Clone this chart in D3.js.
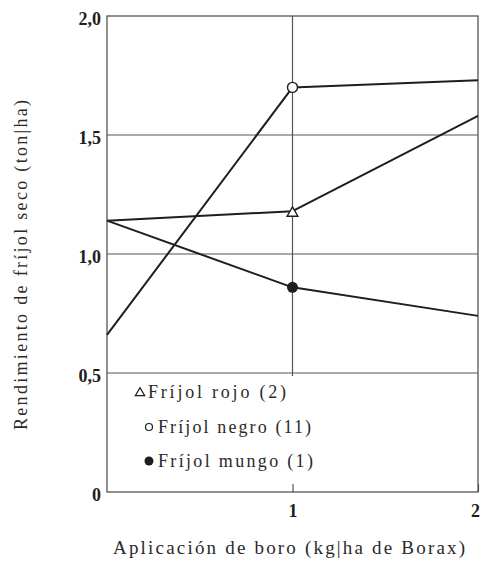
<!DOCTYPE html>
<html>
<head>
<meta charset="utf-8">
<script src="https://cdn.jsdelivr.net/npm/d3@7"></script>
<style>
  html, body { margin: 0; padding: 0; background: #fff; }
  svg { display: block; }
  svg text { font-family: "Liberation Serif", "Times New Roman", Tinos, "DejaVu Serif", "Noto Serif", serif; }
</style>
</head>
<body>
<svg id="chart" width="481" height="565"></svg>
<script>
// Boron application (kg/ha Borax)
const boro = [0, 1, 2];
// Dry bean yield (ton/ha) per variety
const rojo = [1.14, 1.18, 1.58];
const negro = [0.66, 1.70, 1.73];
const mungo = [1.14, 0.86, 0.74];
const yTicks = [0, 0.5, 1.0, 1.5, 2.0];
const yTickLabels = ["0", "0,5", "1,0", "1,5", "2,0"];
const xTicks = [1, 2];
const xTickLabels = ["1", "2"];
const legendLabels = ["Fríjol rojo (2)", "Fríjol negro (11)", "Fríjol mungo (1)"];

const ink = "#1e1e1e";
const grid = "#555";

const svg = d3.select("#chart");
const x = d3.scaleLinear().domain([0, 2]).range([107, 478]);
const y = d3.scaleLinear().domain([0, 2]).range([492, 16]);

// Fit a text element to a target width by adjusting letter spacing
function fitWidth(sel, width) {
  sel.each(function () {
    const t = d3.select(this);
    const n = t.text().length;
    const w = this.getComputedTextLength();
    t.attr("letter-spacing", ((width - w) / Math.max(1, n - 1)).toFixed(2));
  });
}

// Horizontal reference lines at 0.5, 1.0 and 1.5
svg.append("g").selectAll("line")
  .data(yTicks.filter(v => v > 0 && v < 2))
  .join("line")
  .attr("x1", x(0)).attr("x2", x(2))
  .attr("y1", d => y(d)).attr("y2", d => y(d))
  .attr("stroke", grid).attr("stroke-width", 1.2);

// Vertical reference line at 1 kg/ha (above the legend area)
svg.append("line")
  .attr("x1", x(1)).attr("x2", x(1))
  .attr("y1", y(2)).attr("y2", y(0.5) + 3)
  .attr("stroke", grid).attr("stroke-width", 1.2);

// Frame
svg.append("rect")
  .attr("x", x(0)).attr("y", y(2))
  .attr("width", x(2) - x(0)).attr("height", y(0) - y(2))
  .attr("fill", "none").attr("stroke", grid).attr("stroke-width", 1.3);

// Bottom axis: inward ticks
const xAxis = d3.axisBottom(x).tickValues(xTicks)
  .tickSize(-8).tickPadding(12)
  .tickFormat((d, i) => xTickLabels[i]);
const gx = svg.append("g").attr("transform", `translate(0,${y(0)})`).call(xAxis);
gx.attr("font-family", null);
gx.select(".domain").remove();
gx.selectAll(".tick line").attr("stroke", grid).attr("stroke-width", 1.2);
gx.selectAll(".tick text")
  .attr("font-weight", "bold")
  .attr("font-size", 18).attr("fill", ink)
  .attr("dx", d => d === 2 ? -3 : 0);

// Left axis labels
const yAxis = d3.axisLeft(y).tickValues(yTicks)
  .tickSize(0).tickPadding(6)
  .tickFormat((d, i) => yTickLabels[i]);
const gy = svg.append("g").attr("transform", `translate(${x(0)},0)`).call(yAxis);
gy.attr("font-family", null);
gy.select(".domain").remove();
gy.selectAll(".tick text")
  .attr("font-weight", "bold")
  .attr("font-size", 18).attr("fill", ink)
  .attr("dy", "0.45em");

// Series lines
const line = d3.line().x((d, i) => x(boro[i])).y(d => y(d));
[rojo, negro, mungo].forEach(s => {
  svg.append("path").datum(s)
    .attr("d", line)
    .attr("fill", "none").attr("stroke", ink)
    .attr("stroke-width", 2).attr("stroke-linejoin", "round");
});

// Markers at 1 kg/ha
const tri = d3.symbol().type(d3.symbolTriangle).size(50);
svg.append("path").attr("d", tri())
  .attr("transform", `translate(${x(boro[1])},${y(rojo[1]) + 2})`)
  .attr("fill", "#fff").attr("stroke", ink).attr("stroke-width", 1.4);
svg.append("circle")
  .attr("cx", x(boro[1])).attr("cy", y(negro[1])).attr("r", 5)
  .attr("fill", "#fff").attr("stroke", ink).attr("stroke-width", 1.4);
svg.append("circle")
  .attr("cx", x(boro[1])).attr("cy", y(mungo[1])).attr("r", 5.5)
  .attr("fill", ink);

// Legend
const legendY = [392, 427, 461];
const legendW = [138, 153, 155];
const lg = svg.append("g");
lg.append("path").attr("d", d3.symbol().type(d3.symbolTriangle).size(38)())
  .attr("transform", `translate(140,${legendY[0] + 1})`)
  .attr("fill", "none").attr("stroke", ink).attr("stroke-width", 1.2);
lg.append("circle").attr("cx", 149).attr("cy", legendY[1]).attr("r", 3.5)
  .attr("fill", "none").attr("stroke", ink).attr("stroke-width", 1.2);
lg.append("circle").attr("cx", 149).attr("cy", legendY[2]).attr("r", 4.5)
  .attr("fill", ink);
lg.selectAll("text").data(legendLabels).join("text")
  .attr("x", (d, i) => i === 0 ? 148 : 158)
  .attr("y", (d, i) => legendY[i])
  .attr("dy", "0.35em")
  .attr("font-size", 18)
  .attr("fill", "#2a2a2a")
  .text(d => d)
  .each(function (d, i) { fitWidth(d3.select(this), legendW[i]); });

// Axis titles
const xt = svg.append("text")
  .attr("x", 113).attr("y", 554)
  .attr("font-size", 19)
  .attr("fill", "#2a2a2a")
  .text("Aplicación de boro (kg|ha de Borax)");
fitWidth(xt, 352);

const yt = svg.append("text")
  .attr("transform", "translate(27,430) rotate(-90)")
  .attr("font-size", 18)
  .attr("fill", "#2a2a2a")
  .text("Rendimiento de fríjol seco (ton|ha)");
fitWidth(yt, 330);
</script>
</body>
</html>
